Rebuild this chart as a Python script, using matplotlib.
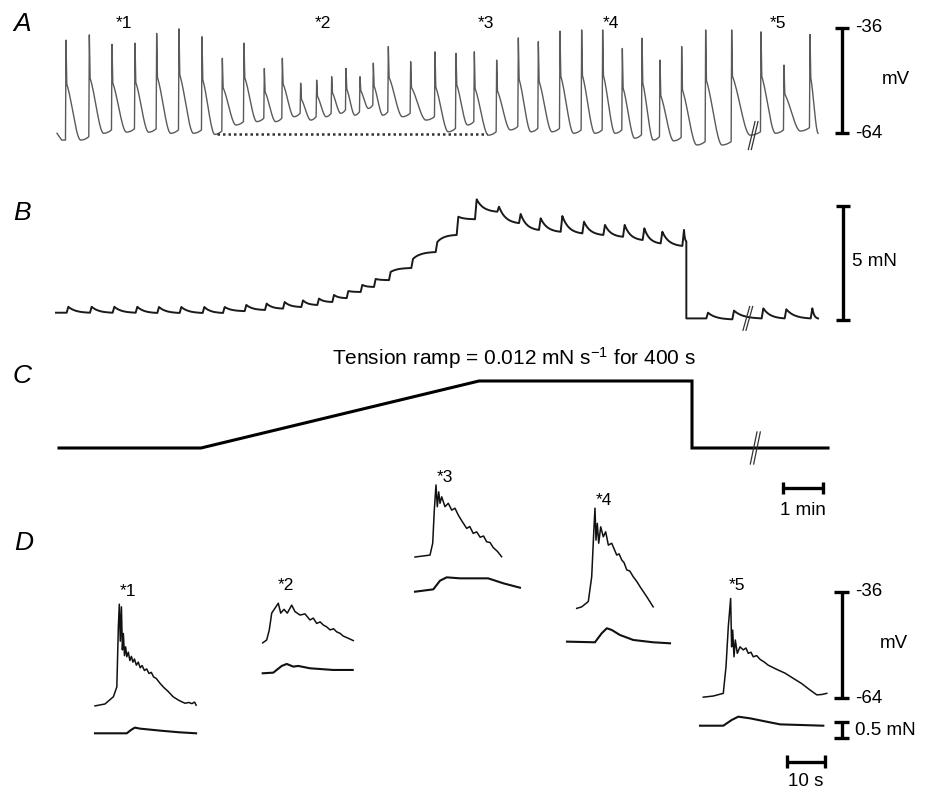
import numpy as np
import matplotlib
matplotlib.use("Agg")
import matplotlib.pyplot as plt

plt.rcParams['font.family'] = ['Liberation Sans', 'DejaVu Sans']
plt.rcParams['mathtext.fontset'] = 'custom'
plt.rcParams['mathtext.rm'] = 'Liberation Sans'
plt.rcParams['mathtext.it'] = 'Liberation Sans:italic'
plt.rcParams['mathtext.default'] = 'regular'

# ======================= DATA =======================
# Panel A / B : slow-wave cycle times (s)
cycle_t = [16.5, 51.5, 85.5, 120, 152.5, 186, 220.5, 251, 283.5, 314,
           341, 368.5, 392.5, 415, 436.5, 457.5, 477.5, 500, 533.5, 570,
           601.5, 629, 662.5, 695, 725, 757.5, 790, 821.5, 851, 880.5,
           907.5, 940, 976, 1015, 1059, 1093.5, 1132.5]
# Panel A : membrane potential (mV) at each slow-wave peak and following trough
ap_peak_mv = [-39.3, -37.9, -40.4, -40.1, -37.5, -36.3, -38.4, -44.1, -40.1, -46.8,
              -44.1, -50.7, -49.9, -49.0, -46.8, -49.0, -45.4, -41.0, -45.0, -42.4,
              -42.8, -42.4, -44.6, -38.7, -39.7, -36.9, -36.6, -36.6, -41.5, -38.8,
              -44.6, -41.0, -36.6, -36.6, -37.1, -45.9, -37.8]
ap_trough_mv = [-65.8, -64.0, -63.7, -63.7, -64.0, -64.0, -64.3, -61.8, -60.9, -60.9,
                -59.6, -60.5, -59.6, -58.7, -59.2, -57.4, -59.2, -59.6, -60.5, -63.6,
                -61.8, -64.5, -63.1, -63.6, -63.6, -64.0, -64.0, -64.0, -65.3, -65.8,
                -66.0, -67.1, -67.1, -64.5, -64.0, -63.4, -64.0]
a_start_t = [3.0, 10.0]
a_start_mv = [-64.0, -65.8]
a_end_t = 1152.0
a_dotted_t = [243.0, 648.0]
a_dotted_mv = -64.3
a_labels = ['*1', '*2', '*3', '*4', '*5']
a_label_t = [103, 402, 646, 834, 1084]

# Panel B : tension (mN) before each contraction and at its peak
b_base_mn = [0.32, 0.32, 0.32, 0.32, 0.31, 0.31, 0.31, 0.31, 0.39, 0.44,
             0.50, 0.57, 0.66, 0.79, 0.96, 1.23, 1.45, 1.75, 2.28, 2.98,
             3.73, 4.42, 4.75, 4.25, 3.95, 3.87, 3.80, 3.73, 3.65, 3.51,
             3.36, 3.25, 0.07, 0.03, 0.07, 0.07, 0.07]
b_peak_mn = [0.58, 0.58, 0.58, 0.58, 0.57, 0.57, 0.57, 0.57, 0.66, 0.72,
             0.79, 0.86, 0.94, 1.10, 1.27, 1.54, 1.80, 2.11, 2.68, 3.42,
             4.53, 5.29, 4.97, 4.65, 4.46, 4.56, 4.31, 4.17, 4.17, 4.02,
             3.87, 3.95, 0.32, 0.41, 0.51, 0.47, 0.51]
b_start_t = 1.5
b_end_t = 1144.5
b_end_mn = 0.07
b_drop_t = 947.0
b_predrop_mn = 3.45

# Panel C : imposed tension protocol
c_t = [6.0, 219.0, 636.0, 955.5, 955.5, 1159.5]
c_mn = [0.0, 0.0, 4.8, 4.8, 0.0, 0.0]

# Panel D : expanded records (t in s from start of each record)
d1_t = [0, 2.6, 4.8, 5.7, 6.1, 6.35, 6.6, 6.9, 7.15, 7.4, 7.7, 8.0, 8.3, 8.7, 9.1,
        9.5, 9.9, 10.3, 10.8, 11.3, 11.8, 12.3, 12.9, 13.5, 14.1, 14.7, 15.3, 16.0,
        17.0, 18.0, 19.0, 20.4, 21.5, 22.4, 23.5, 24.5, 25.3, 26.0, 26.4]
d1_mv = [-64.5, -64.0, -62.1, -59.5, -43.7, -37.8, -47.5, -38.5, -49.8, -45.5, -51.3,
         -49.0, -51.6, -50.4, -52.6, -51.5, -53.0, -52.2, -53.8, -53.0, -54.5, -53.9,
         -55.2, -54.8, -56.0, -55.7, -56.9, -57.3, -58.6, -59.7, -60.6, -62.1, -62.8,
         -63.3, -63.8, -63.6, -63.9, -63.5, -64.3]
d1_tt = [0, 8.3, 9.4, 10.4, 11.75, 17.0, 22.0, 26.4]
d1_mn = [0, 0, 0.10, 0.17, 0.14, 0.08, 0.03, 0]

d2_t = [0, 1.04, 1.72, 2.35, 3.2, 4.07, 4.7, 5.56, 6.42, 7.57, 8.43, 9.74, 11.04,
        12.35, 13.2, 14.1, 15.0, 15.8, 16.7, 17.6, 18.5, 19.3, 20.2, 21.0, 22.35, 23.65]
d2_mv = [-59.5, -58.75, -56.1, -51.7, -50.4, -49.1, -51.7, -50.7, -51.7, -49.6, -51.3,
         -52.2, -51.9, -53.5, -53.0, -54.4, -54.0, -54.8, -55.3, -56.1, -55.8, -56.6,
         -57.0, -57.7, -58.3, -58.9]
d2_tt = [0, 2.77, 4.96, 6.27, 8.0, 9.3, 12.35, 18.4, 23.5]
d2_mn = [0, 0.02, 0.22, 0.28, 0.20, 0.22, 0.15, 0.10, 0.10]

d3_t = [0, 3.92, 4.62, 5.04, 5.48, 5.82, 6.19, 6.53, 6.97, 7.83, 8.69, 9.58, 10.44,
        11.3, 12.27, 13.5, 14.3, 15.2, 16.1, 17.0, 17.9, 18.7, 19.6, 20.4, 21.5, 22.6]
d3_mv = [-64.0, -63.5, -60.4, -51.7, -45.1, -50.8, -46.9, -49.9, -48.2, -50.8, -49.9,
         -51.7, -51.2, -53.0, -54.6, -56.5, -56.0, -57.8, -57.4, -58.8, -58.5, -60.0,
         -60.2, -61.5, -62.5, -63.9]
d3_tt = [0, 4.78, 6.53, 8.28, 11.75, 19.1, 23.1, 27.4]
d3_mn = [0, 0.07, 0.33, 0.43, 0.40, 0.40, 0.25, 0.12]

d4_t = [2.53, 3.84, 5.56, 6.45, 7.05, 7.31, 7.57, 7.91, 8.28, 8.8, 9.48, 10.1, 10.8,
        11.67, 12.98, 13.6, 14.3, 14.9, 15.6, 16.4, 17.3, 18.2, 19.06, 20.8, 22.5]
d4_mv = [-64.1, -63.7, -62.3, -55.8, -42.7, -37.8, -46.2, -41.8, -47.0, -42.7, -45.3,
         -44.0, -47.5, -47.0, -50.1, -49.8, -51.4, -52.1, -54.0, -54.3, -55.8, -57.0,
         -58.4, -61.0, -63.7]
d4_tt = [0, 7.3, 9.06, 10.4, 11.67, 13.8, 17.3, 22.5, 26.9]
d4_mn = [0.05, 0.03, 0.30, 0.45, 0.40, 0.25, 0.10, 0.03, 0]

d5_t = [0.86, 3.47, 6.08, 6.79, 7.39, 8.0, 8.26, 8.53, 8.88, 9.22, 9.74, 10.44, 11.3,
        12.0, 12.6, 13.3, 13.9, 14.8, 15.7, 16.8, 17.8, 20.0, 22.2, 24.4, 26.5, 28.7,
        30.5, 31.8, 33.1]
d5_mv = [-63.7, -63.4, -62.7, -55.7, -45.2, -37.8, -50.5, -46.1, -53.1, -48.7, -52.2,
         -50.5, -51.3, -50.8, -52.2, -51.9, -53.1, -52.8, -53.8, -54.5, -55.3, -56.4,
         -57.4, -58.8, -60.1, -61.8, -63.1, -63.0, -62.7]
d5_tt = [0, 6.08, 8.26, 10.0, 13.1, 17.4, 20.9, 32.2]
d5_mn = [0, 0, 0.17, 0.27, 0.22, 0.12, 0.04, 0]

d_records = [(d1_t, d1_mv, d1_tt, d1_mn, '*1'),
             (d2_t, d2_mv, d2_tt, d2_mn, '*2'),
             (d3_t, d3_mv, d3_tt, d3_mn, '*3'),
             (d4_t, d4_mv, d4_tt, d4_mn, '*4'),
             (d5_t, d5_mv, d5_tt, d5_mn, '*5')]

# ======================= LAYOUT =======================
W, H = 925, 790
fig = plt.figure(figsize=(W / 100, H / 100), dpi=100)


def mapped_axes(box, x0_px, xs, y0_px, y0_val, ys):
    """Axes occupying pixel box (x_a, y_a, x_b, y_b) (y downward) with
    x0_px <-> x=0, xs px per x-unit, y0_px <-> y0_val, ys px per y-unit."""
    xa, ya, xb, yb = box
    ax = fig.add_axes([xa / W, 1 - yb / H, (xb - xa) / W, (yb - ya) / H])
    ax.set_xlim((xa - x0_px) / xs, (xb - x0_px) / xs)
    ax.set_ylim(y0_val - (yb - y0_px) / ys, y0_val + (y0_px - ya) / ys)
    ax.set_axis_off()
    return ax


def ptext(x, y, s, **kw):
    fig.text(x / W, 1 - y / H, s, **kw)


def vbar(ax, x, y0, y1, cap, lw=2.4):
    ax.plot([x, x], [y0, y1], color='black', lw=lw, clip_on=False, solid_capstyle='butt')
    for yy in (y0, y1):
        ax.plot([x - cap, x + cap], [yy, yy], color='black', lw=lw, clip_on=False,
                solid_capstyle='butt')


def hbar(ax, x0, x1, y, cap, lw=2.4):
    ax.plot([x0, x1], [y, y], color='black', lw=lw, clip_on=False, solid_capstyle='butt')
    for xx in (x0, x1):
        ax.plot([xx, xx], [y - cap, y + cap], color='black', lw=lw, clip_on=False,
                solid_capstyle='butt')


def break_mark(ax, x, y, dx, dy, gap, color='#333333'):
    for off in (0, gap):
        ax.plot([x + off - dx, x + off + dx], [y - dy, y + dy], color=color, lw=0.9,
                clip_on=False)


T_PX = 1 / 1.5           # px per second on panels A-C
LETTER = dict(fontsize=19, style='italic', ha='center', va='center')
STAR = dict(fontsize=12.5, ha='center', va='center')
SCALE = dict(fontsize=13.5, va='center')

# ---------------- Panel A ----------------
axA = mapped_axes((40, 5, 830, 165), 55, T_PX, 133.3, -64.0, 3.771)


def slow_wave(times, peaks, troughs, st, sv, end_t):
    tt, vv = list(st), list(sv)
    n = len(times)
    for i in range(n):
        tp, P, Tr = times[i], peaks[i], troughs[i]
        t_nx = times[i + 1] if i + 1 < n else end_t
        dT = t_nx - tp
        foot = vv[-1]
        tt += [tp - 0.8, tp]
        vv += [foot, P]
        S = Tr + 0.56 * (P - Tr)
        tt.append(tp + 1.2)
        vv.append(S)
        t_min = tp + 0.62 * dT
        w = np.linspace(0, 1, 18)[1:]
        shape = 0.5 * (0.5 * (1 + np.cos(np.pi * w))) + 0.5 * (1 - w) ** 1.5
        tt += list(tp + 1.2 + w * (t_min - tp - 1.2))
        vv += list(Tr + (S - Tr) * shape)
        if i + 1 < n:
            r = np.linspace(0, 1, 8)[1:]
            tt += list(t_min + r * (t_nx - 0.8 - t_min))
            vv += list(Tr + 0.9 * r ** 2)
    return tt, vv


ta, va = slow_wave(cycle_t, ap_peak_mv, ap_trough_mv, a_start_t, a_start_mv, a_end_t)
axA.plot(ta, va, color='#5a5a5a', lw=1.0)
axA.plot(a_dotted_t, [a_dotted_mv] * 2, color='#333333', lw=1.8, ls=(0, (1, 1.2)))
for lab, t in zip(a_labels, a_label_t):
    axA.text(t, -35.0, lab, **STAR)
break_mark(axA, 1045, -64.6, 5.0, 3.7, 4.5)
vbar(axA, 1180.5, -64, -36, 10.5)
axA.text(1200, -36, '-36', ha='left', **SCALE)
axA.text(1200, -64, '-64', ha='left', **SCALE)
axA.text(1262, -49.8, 'mV', ha='center', **SCALE)
ptext(22, 24, 'A', **LETTER)

# ---------------- Panel B ----------------
axB = mapped_axes((40, 185, 830, 335), 55, T_PX, 320.0, 0.0, 22.8)


def tension_trace(times, bases, peaks, t0, t_end, v_end, t_drop, v_pre, lag=1.0, rise=2.5, k=3.0):
    tt, vv = [t0], [bases[0]]
    n = len(times)

    def relax(ta_, tb_, v_from, v_to):
        s = np.linspace(0, 1, 16)[1:]
        f = (np.exp(-k * s) - np.exp(-k)) / (1 - np.exp(-k))
        return list(ta_ + s * (tb_ - ta_)), list(v_to + (v_from - v_to) * f)

    for i in range(n):
        tb = times[i] + lag
        tt += [tb, tb + rise]
        vv += [bases[i], peaks[i]]
        t_nx = times[i + 1] + lag if i + 1 < n else t_end
        v_nx = bases[i + 1] if i + 1 < n else v_end
        if tb + rise < t_drop < t_nx:
            a, b = relax(tb + rise, t_drop, peaks[i], v_pre)
            tt += a + [t_drop, t_nx]
            vv += b + [v_nx, v_nx]
        else:
            a, b = relax(tb + rise, t_nx, peaks[i], v_nx)
            tt += a
            vv += b
    return tt, vv


tb_, vb_ = tension_trace(cycle_t, b_base_mn, b_peak_mn, b_start_t, b_end_t, b_end_mn,
                         b_drop_t, b_predrop_mn)
axB.plot(tb_, vb_, color='#1a1a1a', lw=1.4)
break_mark(axB, 1037, 0.07, 5.0, 0.52, 4.5)
vbar(axB, 1182, 0, 5, 10.5)
axB.text(1195, 2.55, '5 mN', ha='left', **SCALE)
ptext(22, 213, 'B', **LETTER)

# ---------------- Panel C ----------------
axC = mapped_axes((40, 340, 830, 525), 55, T_PX, 448.0, 0.0, 13.96)
axC.plot(c_t, c_mn, color='black', lw=2.2, solid_joinstyle='miter')
break_mark(axC, 1048, 0.0, 5.0, 1.15, 5.0)
hbar(axC, 1092, 1152, -2.87, 0.45)
axC.text(1122, -4.45, '1 min', ha='center', **SCALE)
axC.text(688.5, 6.45, 'Tension ramp = 0.012 mN s$^{-1}$ for 400 s', ha='center',
         va='center', fontsize=15)
ptext(22, 376, 'C', **LETTER)

# ---------------- Panel D ----------------
D_S, D_MV, D_MN = 3.83, 3.81, 33.4
d_layout = [(95, 704.0, 733.3, 128, 592),
            (262.7, 660.0, 673.3, 286, 586),
            (415, 557.0, 591.7, 445, 477),
            (567, 608.0, 643.3, 604, 500),
            (700, 698.3, 725.7, 737, 585)]
for (t_v, mv, t_t, mn, lab), (L, yv, yt, lx, ly) in zip(d_records, d_layout):
    box = (L - 10, yv - 130, L + 150, yt + 20)
    axv = mapped_axes(box, L, D_S, yv, -64.0, D_MV)
    axt = mapped_axes(box, L, D_S, yt, 0.0, D_MN)
    axv.plot(t_v, mv, color='#111111', lw=1.1, clip_on=False)
    axt.plot(t_t, mn, color='#111111', lw=1.5, clip_on=False)
    ptext(lx, ly, lab, **STAR)
    if lab == '*5':
        vbar(axv, 37.0, -64, -36, 1.9)
        axv.text(40.5, -36, '-36', ha='left', **SCALE)
        axv.text(40.5, -64, '-64', ha='left', **SCALE)
        axv.text(50.6, -49.6, 'mV', ha='center', **SCALE)
        vbar(axt, 37.0, 0.12, -0.38, 1.9)
        axt.text(40.5, -0.13, '0.5 mN', ha='left', **SCALE)
        hbar(axt, 22.6, 32.6, -1.08, 0.2)
        axt.text(27.6, -1.68, '10 s', ha='center', **SCALE)
ptext(24, 543, 'D', **LETTER)

fig.savefig('out.png', dpi=100)
